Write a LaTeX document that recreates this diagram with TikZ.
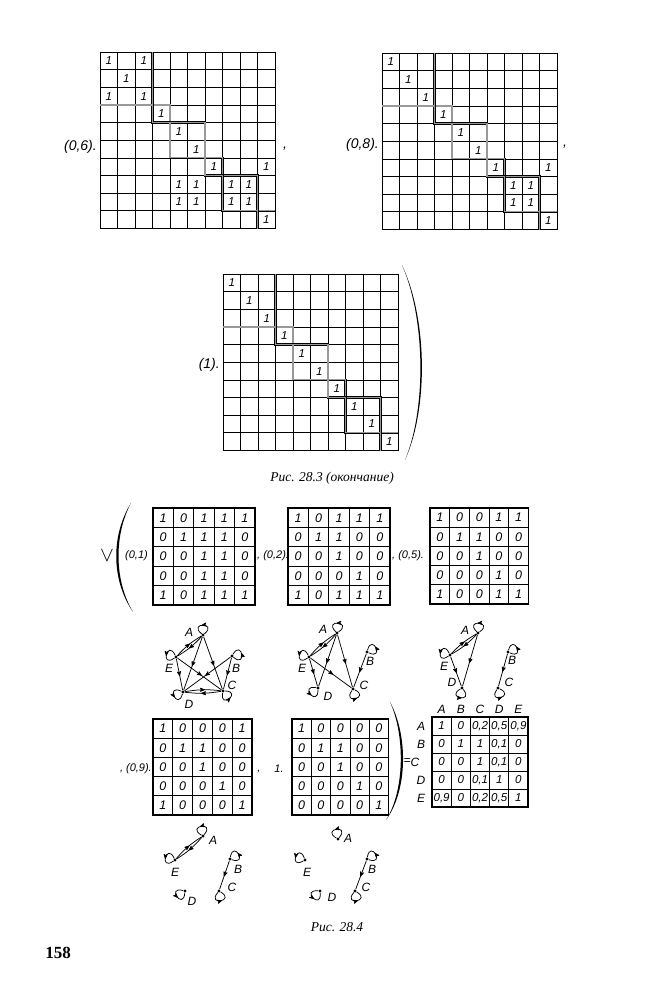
\documentclass[tikz,border=0pt]{standalone}
\usepackage{fontspec}
\setmainfont{Liberation Serif}
\newfontfamily\labfont{Liberation Sans}
\usetikzlibrary{arrows,decorations.markings}

\begin{document}
\begin{tikzpicture}[x=1pt,y=-1pt,
  gridline/.style={line width=0.8pt},
  blockline/.style={line width=0.65pt,double=black!40,double distance=1.1pt},
  cellnum/.style={font=\labfont\itshape\fontsize{11.5}{11.5}\selectfont,inner sep=0pt},
  smallnum/.style={font=\labfont\itshape\fontsize{12.5}{12.5}\selectfont,inner sep=0pt},
  tag/.style={font=\labfont\itshape\fontsize{14}{14}\selectfont,inner sep=1pt},
  smalltag/.style={font=\labfont\itshape\fontsize{11}{11}\selectfont,inner sep=1pt},
  headtag/.style={font=\labfont\itshape\fontsize{12}{12}\selectfont,inner sep=1pt},
  vertex/.style={circle,fill,inner sep=0pt,minimum size=3.4pt},
  vlabel/.style={font=\labfont\itshape\fontsize{12}{12}\selectfont,inner sep=0pt},
  arcedge/.style={line width=0.75pt,postaction={decorate},
    decoration={markings,mark=at position 0.55 with {\arrow{stealth'}}}},
  selfloop/.style={arcedge,min distance=18pt,looseness=1},
  captext/.style={font=\itshape\fontsize{13.5}{13.5}\selectfont}]

  \useasboundingbox (0,0) rectangle (649,990);

  % Fig. 28.3 -- three 10x10 matrices
  \foreach \ox/\oy/\ones in {
    100/52/{1/1,1/3,2/2,3/1,3/3,4/4,5/5,6/6,7/7,7/10,8/5,8/6,8/8,8/9,9/5,9/6,9/8,9/9,10/10},
    382/53/{1/1,2/2,3/3,4/4,5/5,6/6,7/7,7/10,8/8,8/9,9/8,9/9,10/10},
    223/274/{1/1,2/2,3/3,4/4,5/5,6/6,7/7,8/8,9/9,10/10}} {
    \begin{scope}[shift={(\ox,\oy)},x=17.5pt,y=-17.65pt]
      \foreach \i in {0,...,10} {
        \draw[gridline] (\i,0) -- (\i,10);
        \draw[gridline] (0,\i) -- (10,\i);
      }
      \draw[blockline] (3,0) |- (4,3) |- (6,4) |- (7,6) |- (9,7) |- (10,9);
      \draw[blockline] (0,3) -| (3,4) -| (4,6) -| (6,7) -| (7,9) -| (9,10);
      \foreach \rw/\cl in \ones
        \node[cellnum] (n\ox-\rw-\cl) at (\cl-0.5,\rw-0.5) {1};
    \end{scope}
  }

  \node[tag,anchor=east] (t06) at (98,147) {(0,6).};
  \node[tag] (comma1) at (285,149) {,};
  \node[tag,anchor=east] (t08) at (380,145) {(0,8).};
  \node[tag] (comma2) at (565,147) {,};
  \node[tag,anchor=east] (t1) at (221,365) {(1).};
  \fill (402,265) .. controls (428,320) and (428,410) .. (405,460)
    .. controls (426,410) and (426,320) .. cycle;
  \node[captext] (cap283) at (332,478) {Рис. 28.3 (окончание)};

  % Fig. 28.4 -- 5x5 matrices
  \foreach \ox/\oy/\w/\h/\vals in {
    153/508/20.4pt/19.4pt/{1,0,1,1,1, 0,1,1,1,0, 0,0,1,1,0, 0,0,1,1,0, 1,0,1,1,1},
    288/508/20.4pt/19.4pt/{1,0,1,1,1, 0,1,1,0,0, 0,0,1,0,0, 0,0,0,1,0, 1,0,1,1,1},
    430/508/19.7pt/19.2pt/{1,0,0,1,1, 0,1,1,0,0, 0,0,1,0,0, 0,0,0,1,0, 1,0,0,1,1},
    153/719/19.8pt/19.2pt/{1,0,0,0,1, 0,1,1,0,0, 0,0,1,0,0, 0,0,0,1,0, 1,0,0,0,1},
    292/719/19.3pt/19.2pt/{1,0,0,0,0, 0,1,1,0,0, 0,0,1,0,0, 0,0,0,1,0, 0,0,0,0,1}} {
    \begin{scope}[shift={(\ox,\oy)},x=\w,y=-\h]
      \foreach \i in {1,...,4} {
        \draw[gridline] (\i,0) -- (\i,5);
        \draw[gridline] (0,\i) -- (5,\i);
      }
      \draw[line width=1.2pt] (0,0) rectangle (5,5);
      \foreach \v [count=\k from 0] in \vals
        \node[smallnum] (s\ox-\oy-\k) at ({mod(\k,5)+0.5},{int(\k/5)+0.5}) {\v};
    \end{scope}
  }

  % result matrix
  \begin{scope}[shift={(432,717)},x=19.2pt,y=-18pt]
    \foreach \i in {1,...,4} {
      \draw[gridline] (\i,0) -- (\i,5);
      \draw[gridline] (0,\i) -- (5,\i);
    }
    \draw[line width=1.2pt] (0,0) rectangle (5,5);
    \foreach \v [count=\k from 0] in {1,0,{0{,}2},{0{,}5},{0{,}9}, 0,1,1,{0{,}1},0,
        0,0,1,{0{,}1},0, 0,0,{0{,}1},1,0, {0{,}9},0,{0{,}2},{0{,}5},1}
      \node[smallnum,font=\labfont\itshape\fontsize{11.5}{11.5}\selectfont] (r\k)
        at ({mod(\k,5)+0.5},{int(\k/5)+0.5}) {\v};
    \foreach \n [count=\k from 0] in {A,B,C,D,E}
      \node[headtag] (col\n) at (\k+0.5,-0.45) {\n};
  \end{scope}
  \node[headtag] (rowA) at (421,726) {A};
  \node[headtag] (rowB) at (421,744) {B};
  \node[headtag] (eq) at (407,762) {=};
  \node[headtag] (rowC) at (415,762) {C};
  \node[headtag] (rowD) at (421,780) {D};
  \node[headtag] (rowE) at (421,798) {E};

  \node[font=\fontsize{20}{20}\selectfont] (vee) at (107,556) {$\vee$};
  \fill (131,503) .. controls (111,535) and (111,580) .. (133,612)
    .. controls (114,580) and (114,535) .. cycle;
  \node[smalltag,anchor=east] (t01) at (149,556) {(0,1)};
  \node[smalltag,anchor=west] (t02) at (256,556) {, (0,2).};
  \node[smalltag,anchor=west] (t05) at (391,556) {, (0,5).};
  \node[smalltag,anchor=east] (t09) at (153,769) {, (0,9).};
  \node[smalltag] (comma3) at (259,772) {,};
  \node[smalltag] (t10) at (279,769) {1.};
  \fill (390,702) .. controls (408,735) and (408,790) .. (386,820)
    .. controls (405,790) and (405,735) .. cycle;

  % graph 1
  \node[vertex] (a1) at (203,635) {};
  \node[vertex] (b1) at (232,656) {};
  \node[vertex] (c1) at (223,691) {};
  \node[vertex] (d1) at (183,692) {};
  \node[vertex] (e1) at (176,657) {};
  \node[vlabel] (la1) at (189,632) {A};
  \node[vlabel] (lb1) at (236,668) {B};
  \node[vlabel] (lc1) at (232,685) {C};
  \node[vlabel] (ld1) at (189,704) {D};
  \node[vlabel] (le1) at (169,668) {E};
  \path (a1) edge[selfloop,out=40,in=140] (a1)
        (e1) edge[selfloop,out=115,in=215] (e1)
        (b1) edge[selfloop,out=-40,in=60] (b1)
        (c1) edge[selfloop,out=-100,in=0] (c1)
        (d1) edge[selfloop,out=155,in=255] (d1)
        (a1) edge[arcedge,bend left=8] (e1)
        (e1) edge[arcedge,bend left=8] (a1)
        (a1) edge[arcedge] (c1) edge[arcedge] (d1)
        (e1) edge[arcedge] (c1) edge[arcedge] (d1)
        (b1) edge[arcedge] (c1) edge[arcedge] (d1)
        (c1) edge[arcedge,bend left=8] (d1)
        (d1) edge[arcedge,bend left=8] (c1);

  % graph 2
  \node[vertex] (a2) at (337,633) {};
  \node[vertex] (b2) at (367,652) {};
  \node[vertex] (c2) at (353,689) {};
  \node[vertex] (d2) at (318,688) {};
  \node[vertex] (e2) at (309,657) {};
  \node[vlabel] (la2) at (323,629) {A};
  \node[vlabel] (lb2) at (370,661) {B};
  \node[vlabel] (lc2) at (364,685) {C};
  \node[vlabel] (ld2) at (328,696) {D};
  \node[vlabel] (le2) at (302,668) {E};
  \path (a2) edge[selfloop,out=35,in=135] (a2)
        (e2) edge[selfloop,out=115,in=215] (e2)
        (d2) edge[selfloop,out=170,in=270] (d2)
        (c2) edge[selfloop,out=-125,in=-25] (c2)
        (b2) edge[selfloop,out=-25,in=75] (b2)
        (a2) edge[arcedge,bend left=8] (e2)
        (e2) edge[arcedge,bend left=8] (a2)
        (a2) edge[arcedge] (c2) edge[arcedge] (d2)
        (e2) edge[arcedge] (c2) edge[arcedge] (d2)
        (b2) edge[arcedge] (c2);

  % graph 3
  \node[vertex] (a3) at (478,633) {};
  \node[vertex] (b3) at (508,652) {};
  \node[vertex] (c3) at (498,688) {};
  \node[vertex] (d3) at (462,688) {};
  \node[vertex] (e3) at (450,655) {};
  \node[vlabel] (la3) at (465,630) {A};
  \node[vlabel] (lb3) at (512,660) {B};
  \node[vlabel] (lc3) at (509,682) {C};
  \node[vlabel] (ld3) at (452,682) {D};
  \node[vlabel] (le3) at (444,666) {E};
  \path (a3) edge[selfloop,out=35,in=135] (a3)
        (e3) edge[selfloop,out=115,in=215] (e3)
        (d3) edge[selfloop,out=-150,in=-50] (d3)
        (c3) edge[selfloop,out=-125,in=-25] (c3)
        (b3) edge[selfloop,out=-25,in=75] (b3)
        (a3) edge[arcedge,bend left=8] (e3)
        (e3) edge[arcedge,bend left=8] (a3)
        (a3) edge[arcedge] (d3)
        (e3) edge[arcedge] (d3)
        (b3) edge[arcedge] (c3);

  % graph 4
  \node[vertex] (a4) at (203,836) {};
  \node[vertex] (b4) at (230,859) {};
  \node[vertex] (c4) at (219,891) {};
  \node[vertex] (d4) at (185,891) {};
  \node[vertex] (e4) at (175,860) {};
  \node[vlabel] (la4) at (213,840) {A};
  \node[vlabel] (lb4) at (238,869) {B};
  \node[vlabel] (lc4) at (232,887) {C};
  \node[vlabel] (ld4) at (192,901) {D};
  \node[vlabel] (le4) at (175,872) {E};
  \path (a4) edge[selfloop,out=50,in=150] (a4)
        (e4) edge[selfloop,out=115,in=215] (e4)
        (b4) edge[selfloop,out=-20,in=80] (b4)
        (c4) edge[selfloop,out=-130,in=-30] (c4)
        (d4) edge[selfloop,out=165,in=265] (d4)
        (a4) edge[arcedge,bend left=8] (e4)
        (e4) edge[arcedge,bend left=8] (a4)
        (b4) edge[arcedge] (c4);

  % graph 5
  \node[vertex] (a5) at (338,839) {};
  \node[vertex] (b5) at (367,859) {};
  \node[vertex] (c5) at (355,891) {};
  \node[vertex] (d5) at (320,891) {};
  \node[vertex] (e5) at (305,860) {};
  \node[vlabel] (la5) at (348,838) {A};
  \node[vlabel] (lb5) at (372,869) {B};
  \node[vlabel] (lc5) at (366,887) {C};
  \node[vlabel] (ld5) at (332,897) {D};
  \node[vlabel] (le5) at (307,872) {E};
  \path (a5) edge[selfloop,out=50,in=150] (a5)
        (e5) edge[selfloop,out=110,in=210] (e5)
        (b5) edge[selfloop,out=-20,in=80] (b5)
        (c5) edge[selfloop,out=-130,in=-30] (c5)
        (d5) edge[selfloop,out=175,in=275] (d5)
        (b5) edge[arcedge] (c5);

  \node[captext] (cap284) at (337,927) {Рис. 28.4};
  \node[font=\bfseries\fontsize{17}{17}\selectfont] (page) at (58,953) {158};
\end{tikzpicture}
\end{document}
